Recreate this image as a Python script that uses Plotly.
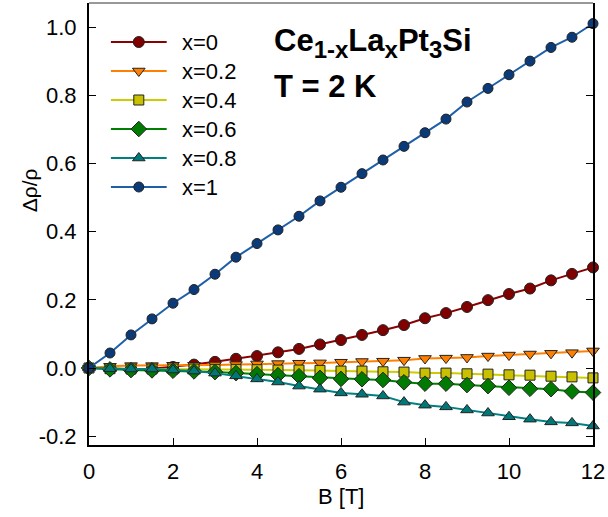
import plotly.graph_objects as go

B = [0, 0.5, 1, 1.5, 2, 2.5, 3, 3.5, 4, 4.5, 5, 5.5, 6, 6.5, 7, 7.5, 8, 8.5, 9, 9.5, 10, 10.5, 11, 11.5, 12]

x0 = [0, -0.003, -0.004, -0.002, 0.003, 0.010, 0.018, 0.027, 0.035, 0.046, 0.056, 0.069, 0.082, 0.097,
      0.111, 0.126, 0.146, 0.161, 0.179, 0.199, 0.217, 0.233, 0.257, 0.276, 0.295]
x02 = [0, 0.005, 0.007, 0.007, 0.008, 0.008, 0.009, 0.010, 0.012, 0.013, 0.014, 0.015, 0.017, 0.019,
       0.020, 0.023, 0.028, 0.029, 0.031, 0.035, 0.038, 0.041, 0.043, 0.045, 0.050]
x04 = [0, -0.002, -0.003, -0.003, -0.003, -0.003, -0.004, -0.004, -0.005, -0.006, -0.006, -0.007, -0.009,
       -0.009, -0.011, -0.012, -0.015, -0.015, -0.017, -0.018, -0.020, -0.021, -0.024, -0.026, -0.029]
x06 = [0, -0.004, -0.006, -0.007, -0.008, -0.010, -0.012, -0.015, -0.018, -0.021, -0.024, -0.029, -0.032,
       -0.033, -0.035, -0.042, -0.046, -0.046, -0.050, -0.053, -0.058, -0.061, -0.062, -0.069, -0.072]
x08 = [0, -0.002, -0.003, -0.003, -0.006, -0.009, -0.015, -0.023, -0.032, -0.041, -0.053, -0.062, -0.073,
       -0.077, -0.082, -0.100, -0.109, -0.114, -0.123, -0.132, -0.143, -0.150, -0.158, -0.161, -0.170]
x1 = [0, 0.044, 0.097, 0.144, 0.190, 0.230, 0.275, 0.325, 0.365, 0.405, 0.445, 0.490, 0.530, 0.570,
      0.610, 0.650, 0.690, 0.730, 0.780, 0.820, 0.860, 0.900, 0.940, 0.970, 1.010]

names = ["x=0", "x=0.2", "x=0.4", "x=0.6", "x=0.8", "x=1"]
series = [x0, x02, x04, x06, x08, x1]
line_colors = ["#8B0000", "#FF8000", "#CCCC00", "#008000", "#008080", "#1F5FA8"]
fill_colors = ["#800000", "#FF8000", "#C8C000", "#007A00", "#007878", "#0A3A78"]
symbols = ["circle", "triangle-down", "square", "diamond", "triangle-up", "circle"]
sizes = [11, 11, 10, 12, 11, 10]

FONT = "Liberation Sans, Arial, sans-serif"

fig = go.Figure()
for nm, ys, lc, fc, sy, sz in zip(names, series, line_colors, fill_colors, symbols, sizes):
    fig.add_trace(go.Scatter(
        x=B, y=ys, mode="lines+markers", name=nm, cliponaxis=False,
        line=dict(color=lc, width=2),
        marker=dict(symbol=sy, size=sz, color=fc, line=dict(color="#222222", width=1)),
        showlegend=False))

# manual legend on an overlay pixel-like axis
leg_y0, leg_dy = 42, 29
for i, (nm, lc, fc, sy, sz) in enumerate(zip(names, line_colors, fill_colors, symbols, sizes)):
    yy = leg_y0 + i * leg_dy
    fig.add_trace(go.Scatter(
        x=[111, 139, 167], y=[yy, yy, yy], xaxis="x2", yaxis="y2", mode="lines+markers",
        line=dict(color=lc, width=2),
        marker=dict(symbol=sy, size=sz, color=fc, opacity=[0, 1, 0],
                    line=dict(color="#222222", width=1)),
        showlegend=False, hoverinfo="skip"))
    fig.add_annotation(x=180, y=yy, xref="x2", yref="y2", text=nm, showarrow=False,
                       xanchor="left", yanchor="middle", font=dict(size=22, color="black", family=FONT))

sub = "<sub><span style='font-size:24px'>{}</span></sub>"
fig.add_annotation(x=273, y=43, xref="x2", yref="y2",
                   text="<b>Ce" + sub.format("1-x") + "La" + sub.format("x") + "Pt" + sub.format("3") + "Si</b>",
                   showarrow=False, xanchor="left", yanchor="middle",
                   font=dict(size=31, color="black", family=FONT))
fig.add_annotation(x=273, y=86, xref="x2", yref="y2", text="<b>T = 2 K</b>",
                   showarrow=False, xanchor="left", yanchor="middle",
                   font=dict(size=31, color="black", family=FONT))

# axis titles
fig.add_annotation(x=-0.1166, y=0.577, xref="paper", yref="paper", text="Δρ/ρ", textangle=-90,
                   showarrow=False, xanchor="center", yanchor="middle",
                   font=dict(size=21, color="black", family=FONT))
fig.add_annotation(x=0.5, y=-0.1176, xref="paper", yref="paper", text="B [T]",
                   showarrow=False, xanchor="center", yanchor="middle",
                   font=dict(size=22, color="black", family=FONT))

# thin top border
fig.add_shape(type="line", xref="paper", yref="paper", x0=0, x1=1, y0=1, y1=1,
              line=dict(color="#333333", width=1))

fig.update_layout(
    width=608, height=517,
    margin=dict(l=89, r=13, t=3, b=72),
    paper_bgcolor="white", plot_bgcolor="white",
    font=dict(family=FONT, size=22, color="black"),
    xaxis=dict(range=[0, 12], tickvals=[0, 2, 4, 6, 8, 10, 12], ticks="inside", ticklen=7,
               tickcolor="black", tickwidth=1, showline=True, linecolor="black", linewidth=2,
               mirror=False, showgrid=False, zeroline=False, ticklabelstandoff=6,
               tickfont=dict(size=22)),
    yaxis=dict(range=[-0.2258, 1.0704], tickvals=[-0.2, 0, 0.2, 0.4, 0.6, 0.8, 1.0],
               ticktext=["-0.2", "0.0", "0.2", "0.4", "0.6", "0.8", "1.0"],
               ticks="inside", ticklen=7, tickcolor="black", tickwidth=1,
               showline=True, linecolor="black", linewidth=2, mirror="ticks",
               showgrid=False, zeroline=False, ticklabelstandoff=6, tickfont=dict(size=22)),
    xaxis2=dict(range=[89, 595], overlaying="x", visible=False, fixedrange=True),
    yaxis2=dict(range=[445, 3], overlaying="y", visible=False, fixedrange=True),
)

fig.write_html("out.html")
